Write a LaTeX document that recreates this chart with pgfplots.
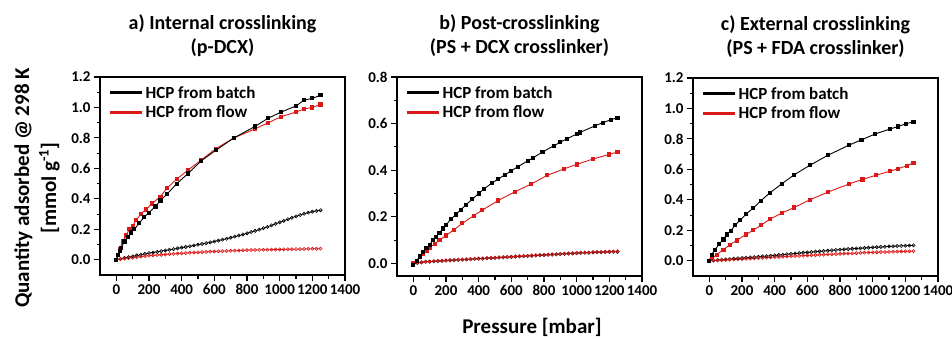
\documentclass[border=0pt]{standalone}
\usepackage{pgfplots}
\pgfplotsset{compat=1.18}
\usepackage{fontspec}
\setmainfont{Carlito}
\definecolor{myred}{RGB}{220,25,25}
\pgfplotsset{
  panel/.style={
    scale only axis, width=245pt,
    xmin=-100, xmax=1400,
    xtick={0,200,...,1400},
    minor x tick num=1, minor y tick num=1,
    tick align=outside, xtick pos=bottom, ytick pos=left,
    major tick length=6pt, minor tick length=3.5pt,
    axis line style={line width=1.1pt},
    every tick/.style={line width=1.1pt, black},
    ticklabel style={font=\fontsize{15}{17}\selectfont\bfseries},
    /pgf/number format/assume math mode=true,
    xticklabel style={/pgf/number format/1000 sep={}},
    yticklabel style={/pgf/number format/fixed, /pgf/number format/fixed zerofill, /pgf/number format/precision=1},
    legend cell align=left,
    legend style={draw=none, fill=none, at={(0.03,0.97)}, anchor=north west,
      font=\fontsize{17}{19}\selectfont\bfseries, row sep=2pt, inner sep=1pt},
    legend image code/.code={\draw[##1,line width=3pt] (0pt,0pt) -- (32pt,0pt);},
    title style={font=\fontsize{20}{24}\selectfont\bfseries, align=center, at={(0.5,1)}, anchor=south, inner sep=0pt, yshift=14pt},
    clip=false,
  },
  batch/.style={black, line width=0.9pt, mark=square*, mark size=1.6pt, forget plot},
  flow/.style={myred, line width=0.9pt, mark=square*, mark size=1.6pt, forget plot},
  lowb/.style={black, line width=0.7pt, mark=o, mark size=1.6pt, mark options={line width=0.6pt}, forget plot},
  lowf/.style={myred, line width=0.7pt, mark=o, mark size=1.6pt, mark options={line width=0.6pt}, forget plot},
}
\begin{document}
\begin{tikzpicture}
\path[use as bounding box] (0pt,0pt) rectangle (952pt,-338pt);
% ---------------- panel a
\begin{axis}[panel, at={(100pt,-275pt)}, anchor=south west, height=198pt,
  ymin=-0.1, ymax=1.2, ytick={0,0.2,...,1.2},
  title={a) Internal crosslinking\\(p-DCX)}]
\addplot[lowb] coordinates {(0,0) (25,0.006) (50,0.012) (75,0.017) (100,0.022) (125,0.028) (150,0.033) (175,0.039) (200,0.044) (225,0.048) (250,0.052) (275,0.057) (300,0.061) (325,0.066) (350,0.070) (375,0.075) (400,0.080) (425,0.084) (450,0.089) (475,0.094) (500,0.099) (525,0.104) (550,0.109) (575,0.114) (600,0.120) (625,0.126) (650,0.132) (675,0.138) (700,0.145) (725,0.152) (750,0.159) (775,0.166) (800,0.174) (825,0.182) (850,0.190) (875,0.198) (900,0.207) (925,0.216) (950,0.226) (975,0.236) (1000,0.246) (1025,0.256) (1050,0.266) (1075,0.276) (1100,0.285) (1125,0.294) (1150,0.302) (1175,0.309) (1200,0.316) (1225,0.321) (1250,0.325)};
\addplot[lowf] coordinates {(0,0) (25,0.004) (50,0.008) (75,0.011) (100,0.014) (125,0.017) (150,0.020) (175,0.024) (200,0.027) (225,0.029) (250,0.031) (275,0.033) (300,0.035) (325,0.037) (350,0.039) (375,0.041) (400,0.043) (425,0.044) (450,0.046) (475,0.047) (500,0.049) (525,0.050) (550,0.052) (575,0.053) (600,0.055) (625,0.056) (650,0.057) (675,0.058) (700,0.059) (725,0.060) (750,0.061) (775,0.062) (800,0.063) (825,0.064) (850,0.064) (875,0.065) (900,0.066) (925,0.066) (950,0.067) (975,0.067) (1000,0.068) (1025,0.068) (1050,0.069) (1075,0.069) (1100,0.070) (1125,0.070) (1150,0.071) (1175,0.071) (1200,0.072) (1225,0.072) (1250,0.073)};
\addplot[flow] coordinates {(0,0) (20,0.07) (40,0.12) (60,0.16) (80,0.20) (100,0.22) (120,0.26) (150,0.30) (180,0.33) (220,0.37) (270,0.415) (310,0.47) (370,0.53) (440,0.59) (520,0.655) (610,0.73) (720,0.80) (850,0.86) (930,0.90) (1010,0.94) (1100,0.97) (1150,0.99) (1200,1.00) (1250,1.02)};
\addplot[batch] coordinates {(0,0) (10,0.03) (20,0.06) (30,0.08) (50,0.12) (70,0.15) (90,0.18) (110,0.20) (140,0.24) (170,0.28) (200,0.31) (240,0.35) (270,0.39) (310,0.43) (370,0.50) (440,0.567) (520,0.65) (610,0.72) (720,0.80) (850,0.876) (930,0.93) (1010,0.97) (1100,1.01) (1150,1.048) (1200,1.06) (1250,1.08)};
\addlegendimage{black}
\addlegendimage{myred}
\legend{HCP from batch, HCP from flow}
\end{axis}
% ---------------- panel b
\begin{axis}[panel, at={(397pt,-276pt)}, anchor=south west, height=199pt,
  ymin=-0.054, ymax=0.8, ytick={0,0.2,...,0.8},
  title={b) Post-crosslinking\\(PS + DCX crosslinker)}]
\addplot[lowb] coordinates {(0,-0.004) (25,0.002) (50,0.005) (75,0.007) (100,0.008) (125,0.009) (150,0.010) (175,0.011) (200,0.012) (225,0.013) (250,0.014) (275,0.015) (300,0.016) (325,0.017) (350,0.018) (375,0.019) (400,0.020) (425,0.021) (450,0.022) (475,0.023) (500,0.024) (525,0.025) (550,0.026) (575,0.027) (600,0.028) (625,0.029) (650,0.030) (675,0.031) (700,0.032) (725,0.033) (750,0.034) (775,0.035) (800,0.036) (825,0.037) (850,0.038) (875,0.039) (900,0.040) (925,0.041) (950,0.042) (975,0.043) (1000,0.044) (1025,0.045) (1050,0.046) (1075,0.046) (1100,0.047) (1125,0.048) (1150,0.048) (1175,0.049) (1200,0.049) (1225,0.050) (1250,0.050)};
\addplot[lowf] coordinates {(0,0) (25,0.003) (50,0.005) (75,0.007) (100,0.008) (125,0.010) (150,0.011) (175,0.012) (200,0.013) (225,0.014) (250,0.015) (275,0.016) (300,0.017) (325,0.018) (350,0.019) (375,0.020) (400,0.021) (425,0.022) (450,0.023) (475,0.024) (500,0.025) (525,0.026) (550,0.027) (575,0.028) (600,0.029) (625,0.030) (650,0.031) (675,0.032) (700,0.033) (725,0.034) (750,0.035) (775,0.036) (800,0.037) (825,0.038) (850,0.039) (875,0.040) (900,0.041) (925,0.042) (950,0.043) (975,0.044) (1000,0.045) (1025,0.046) (1050,0.047) (1075,0.047) (1100,0.048) (1125,0.049) (1150,0.049) (1175,0.050) (1200,0.051) (1225,0.051) (1250,0.052)};
\addplot[flow] coordinates {(0,0) (20,0.012) (40,0.028) (60,0.042) (80,0.055) (100,0.067) (130,0.085) (160,0.10) (200,0.12) (250,0.145) (300,0.172) (370,0.205) (420,0.228) (520,0.27) (620,0.307) (720,0.34) (820,0.378) (920,0.405) (1000,0.425) (1100,0.448) (1200,0.468) (1250,0.478)};
\addplot[batch] coordinates {(0,-0.005) (20,0.01) (40,0.03) (60,0.05) (80,0.065) (100,0.08) (120,0.10) (140,0.115) (160,0.13) (180,0.15) (200,0.165) (230,0.19) (260,0.21) (290,0.23) (320,0.25) (360,0.275) (400,0.30) (430,0.318) (480,0.345) (520,0.362) (560,0.38) (600,0.398) (640,0.415) (700,0.44) (730,0.452) (790,0.478) (860,0.505) (900,0.52) (940,0.535) (1000,0.555) (1020,0.562) (1110,0.59) (1160,0.604) (1210,0.617) (1250,0.625)};
\addlegendimage{black}
\addlegendimage{myred}
\legend{HCP from batch, HCP from flow}
\end{axis}
% ---------------- panel c
\begin{axis}[panel, at={(693pt,-276pt)}, anchor=south west, height=198pt,
  ymin=-0.1, ymax=1.2, ytick={0,0.2,...,1.2},
  title={c) External crosslinking\\(PS + FDA crosslinker)}]
\addplot[lowb] coordinates {(0,0) (25,0.002) (50,0.005) (75,0.007) (100,0.009) (125,0.011) (150,0.014) (175,0.016) (200,0.018) (225,0.020) (250,0.022) (275,0.024) (300,0.026) (325,0.029) (350,0.031) (375,0.033) (400,0.035) (425,0.038) (450,0.040) (475,0.043) (500,0.045) (525,0.048) (550,0.050) (575,0.053) (600,0.055) (625,0.057) (650,0.060) (675,0.062) (700,0.064) (725,0.066) (750,0.069) (775,0.071) (800,0.073) (825,0.075) (850,0.077) (875,0.079) (900,0.081) (925,0.082) (950,0.084) (975,0.086) (1000,0.088) (1025,0.089) (1050,0.091) (1075,0.092) (1100,0.094) (1125,0.095) (1150,0.097) (1175,0.098) (1200,0.099) (1225,0.100) (1250,0.101)};
\addplot[lowf] coordinates {(0,0) (25,0.001) (50,0.003) (75,0.004) (100,0.006) (125,0.007) (150,0.008) (175,0.010) (200,0.011) (225,0.013) (250,0.014) (275,0.016) (300,0.018) (325,0.019) (350,0.021) (375,0.022) (400,0.024) (425,0.025) (450,0.027) (475,0.028) (500,0.030) (525,0.031) (550,0.032) (575,0.034) (600,0.035) (625,0.036) (650,0.038) (675,0.039) (700,0.040) (725,0.042) (750,0.043) (775,0.044) (800,0.046) (825,0.047) (850,0.048) (875,0.049) (900,0.050) (925,0.052) (950,0.053) (975,0.054) (1000,0.055) (1025,0.056) (1050,0.057) (1075,0.057) (1100,0.058) (1125,0.059) (1150,0.060) (1175,0.061) (1200,0.062) (1225,0.062) (1250,0.063)};
\addplot[flow] coordinates {(0,0) (14,0.013) (45,0.04) (86,0.073) (127,0.106) (167,0.133) (224,0.173) (269,0.20) (316,0.233) (371,0.273) (443,0.313) (520,0.35) (616,0.401) (724,0.45) (857,0.505) (937,0.534) (1018,0.561) (1106,0.588) (1157,0.605) (1208,0.623) (1250,0.643)};
\addplot[batch] coordinates {(0,0) (14,0.04) (35,0.073) (61,0.111) (86,0.14) (106,0.173) (131,0.195) (157,0.233) (188,0.266) (224,0.306) (269,0.346) (316,0.395) (371,0.446) (443,0.505) (520,0.565) (616,0.627) (728,0.694) (857,0.76) (931,0.794) (1014,0.832) (1106,0.865) (1157,0.882) (1204,0.90) (1250,0.912)};
\addlegendimage{black}
\addlegendimage{myred}
\legend{HCP from batch, HCP from flow}
\end{axis}
% ---------------- shared labels
\node[rotate=90, align=center, font=\fontsize{21}{27}\selectfont\bfseries] at (37pt,-188pt) {Quantity adsorbed @ 298 K\\{}[mmol g\textsuperscript{-1}]};
\node[font=\fontsize{21}{25}\selectfont\bfseries] at (532pt,-327pt) {Pressure [mbar]};
\end{tikzpicture}
\end{document}
